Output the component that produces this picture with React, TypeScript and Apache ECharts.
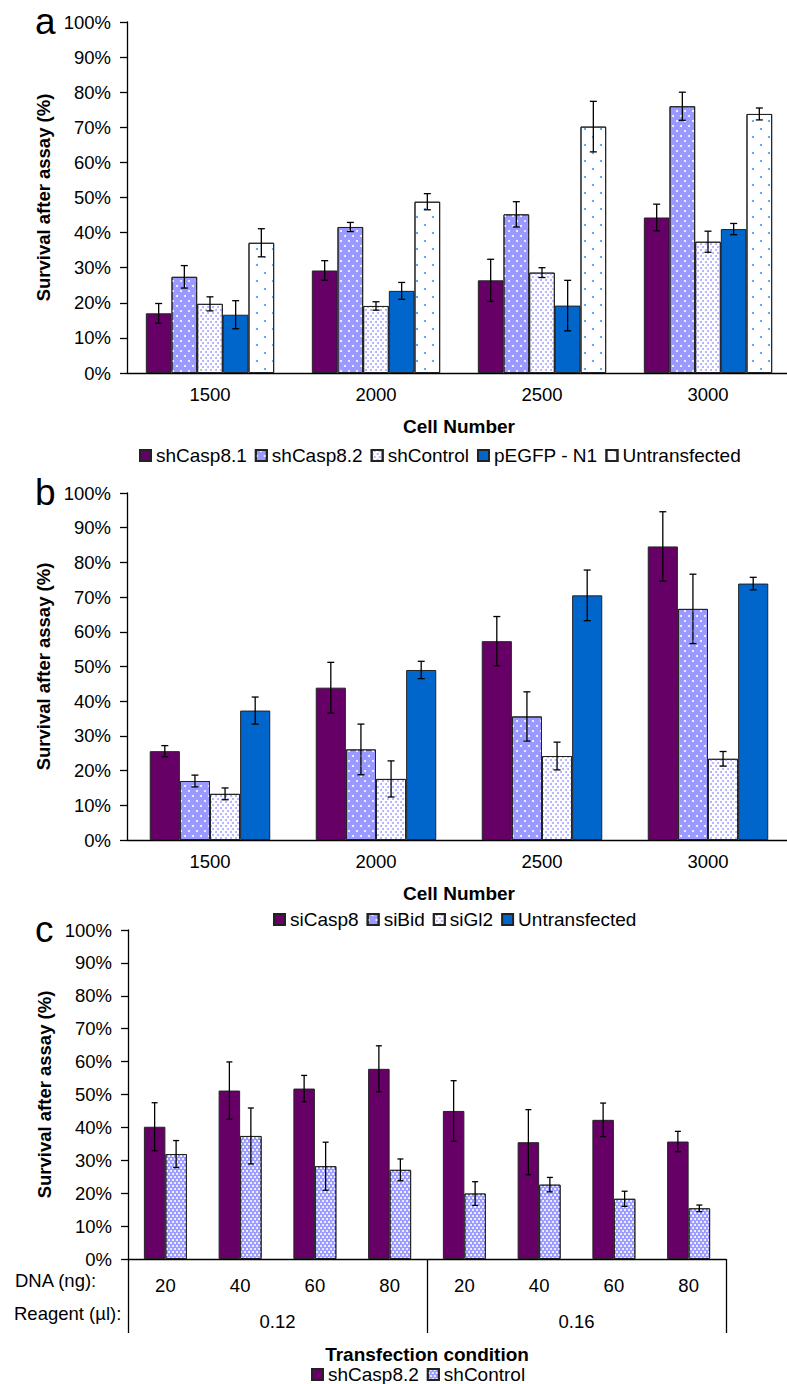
import React, { useEffect, useRef } from 'react';
import * as echarts from 'echarts';

// ---------- data ----------
const cellNumbers = ['1500', '2000', '2500', '3000'];

const aNames = ['shCasp8.1', 'shCasp8.2', 'shControl', 'pEGFP - N1', 'Untransfected'];
const aShCasp81 = [17.0, 29.2, 26.4, 44.3];
const aShCasp81Err = [2.8, 2.8, 6.0, 3.8];
const aShCasp82 = [27.4, 41.6, 45.2, 76.0];
const aShCasp82Err = [3.2, 1.3, 3.6, 4.0];
const aShControl = [19.7, 19.1, 28.6, 37.4];
const aShControlErr = [2.0, 1.2, 1.4, 3.0];
const aPEGFP = [16.6, 23.4, 19.2, 41.0];
const aPEGFPErr = [4.0, 2.4, 7.2, 1.6];
const aUntransfected = [37.1, 48.8, 70.2, 73.8];
const aUntransfectedErr = [4.0, 2.3, 7.2, 1.7];

const bNames = ['siCasp8', 'siBid', 'siGl2', 'Untransfected'];
const bSiCasp8 = [25.6, 43.9, 57.3, 84.6];
const bSiCasp8Err = [1.6, 7.3, 7.1, 10.0];
const bSiBid = [17.0, 26.1, 35.6, 66.6];
const bSiBidErr = [1.7, 7.3, 7.1, 10.0];
const bSiGl2 = [13.3, 17.6, 24.2, 23.4];
const bSiGl2Err = [1.7, 5.2, 4.0, 2.1];
const bUntransfected = [37.3, 49.0, 70.5, 73.9];
const bUntransfectedErr = [3.9, 2.5, 7.3, 1.8];

const cDna = ['20', '40', '60', '80', '20', '40', '60', '80'];
const cReagent = ['0.12', '0.16'];
const cNames = ['shCasp8.2', 'shControl'];
const cShCasp82 = [40.2, 51.2, 51.8, 57.8, 45.0, 35.5, 42.3, 35.7];
const cShCasp82Err = [7.3, 8.7, 4.0, 7.0, 9.2, 9.9, 5.1, 3.1];
const cShControl = [31.9, 37.4, 28.2, 27.1, 19.9, 22.6, 18.3, 15.4];
const cShControlErr = [4.1, 8.5, 7.3, 3.3, 3.6, 2.2, 2.3, 1.0];

// ---------- styles ----------
const FONT = '"Liberation Sans", Arial, Helvetica, sans-serif';
const PURPLE = '#660066';
const LAV = '#9999FF';
const BLUE = '#0066CC';

const decalWhiteDots = { symbol: 'circle', symbolSize: 1, color: '#FFFFFF', dashArrayX: [[2, 6], [0, 4, 2, 2]], dashArrayY: [2, 2.5], rotation: 0 };
const decalLavFine = { symbol: 'circle', symbolSize: 1, color: '#A8A8FF', dashArrayX: [[1.6, 2.4], [0, 2, 1.6, 0.4]], dashArrayY: [1.6, 0.8], rotation: 0 };
const decalBlueDots = { symbol: 'circle', symbolSize: 1, color: '#3399FF', dashArrayX: [[2, 14], [0, 8, 2, 6]], dashArrayY: [2, 6], rotation: 0 };
const decalWhiteFine = { symbol: 'circle', symbolSize: 1, color: '#FFFFFF', dashArrayX: [[2, 2], [0, 2, 2, 0]], dashArrayY: [2, 0.6], rotation: 0 };

const aStyles = [
  { color: PURPLE },
  { color: LAV, decal: decalWhiteDots },
  { color: '#FFFFFF', decal: decalLavFine },
  { color: BLUE },
  { color: '#FFFFFF', decal: decalBlueDots },
];
const bStyles = [
  { color: PURPLE },
  { color: LAV, decal: decalWhiteDots },
  { color: '#FFFFFF', decal: decalLavFine },
  { color: BLUE },
];
const cStyles = [
  { color: PURPLE },
  { color: LAV, decal: decalWhiteFine },
];

function barSeries(prefix: string, names: string[], values: number[][], styles: any[], xi: number, yi: number, gap: string) {
  return names.map((n, i) => ({
    type: 'bar',
    name: prefix + '|' + n,
    xAxisIndex: xi,
    yAxisIndex: yi,
    data: values[i],
    barGap: '0%',
    barCategoryGap: gap,
    itemStyle: { color: styles[i].color, borderColor: '#222', borderWidth: 1, decal: styles[i].decal },
    emphasis: { disabled: true },
  }));
}

function errSeries(values: number[][], errs: number[][], xi: number, yi: number, gapFrac: number, cap: number) {
  const n = values.length;
  return values.map((vals, idx) => ({
    type: 'custom',
    xAxisIndex: xi,
    yAxisIndex: yi,
    silent: true,
    z: 10,
    data: vals.map((v, i) => [i, v, errs[idx][i]]),
    renderItem: (params: any, api: any) => {
      const ci = api.value(0);
      const v = api.value(1);
      const e = api.value(2);
      const c = api.coord([ci, v]);
      const band = api.size([1, 0])[0];
      const gw = band * (1 - gapFrac);
      const x = c[0] - gw / 2 + (idx + 0.5) * (gw / n);
      const top = api.coord([ci, v + e])[1];
      const bot = api.coord([ci, v - e])[1];
      const st = { stroke: '#000', lineWidth: 1.3 };
      return {
        type: 'group',
        children: [
          { type: 'line', shape: { x1: x, y1: top, x2: x, y2: bot }, style: st },
          { type: 'line', shape: { x1: x - cap / 2, y1: top, x2: x + cap / 2, y2: top }, style: st },
          { type: 'line', shape: { x1: x - cap / 2, y1: bot, x2: x + cap / 2, y2: bot }, style: st },
        ],
      };
    },
  }));
}

function yAxisCfg(gridIndex: number) {
  return {
    type: 'value',
    gridIndex,
    min: 0,
    max: 100,
    interval: 10,
    name: 'Survival after assay (%)',
    nameLocation: 'middle',
    nameGap: 73,
    nameTextStyle: { fontSize: 18.5, fontWeight: 'bold', color: '#000', fontFamily: FONT },
    axisLine: { show: true, lineStyle: { color: '#000', width: 1.3 } },
    axisTick: { show: true, length: 7, lineStyle: { color: '#000', width: 1.3 } },
    axisLabel: { formatter: '{value}%', fontSize: 18.5, color: '#000', margin: 16, fontFamily: FONT },
    splitLine: { show: false },
  };
}

function xCellCfg(gridIndex: number) {
  return {
    type: 'category',
    gridIndex,
    data: cellNumbers,
    name: 'Cell Number',
    nameLocation: 'middle',
    nameGap: 44,
    nameTextStyle: { fontSize: 19, fontWeight: 'bold', color: '#000', fontFamily: FONT },
    axisLine: { lineStyle: { color: '#000', width: 1.3 } },
    axisTick: { alignWithLabel: false, length: 6, interval: 0, lineStyle: { color: '#000', width: 1.3 } },
    axisLabel: { fontSize: 18.5, color: '#000', margin: 12, interval: 0, fontFamily: FONT },
  };
}

const legendCommon = {
  orient: 'horizontal',
  icon: 'rect',
  itemWidth: 11,
  itemHeight: 11,
  itemGap: 8,
  padding: 0,
  selectedMode: false,
  textStyle: { fontSize: 19, color: '#000', fontFamily: FONT },
  formatter: (n: string) => n.split('|')[1],
};

export default function App() {
  const ref = useRef<HTMLDivElement>(null);
  useEffect(() => {
    if (!ref.current) return;
    const chart = echarts.init(ref.current, undefined, { renderer: 'svg' });
    const aVals = [aShCasp81, aShCasp82, aShControl, aPEGFP, aUntransfected];
    const aErrs = [aShCasp81Err, aShCasp82Err, aShControlErr, aPEGFPErr, aUntransfectedErr];
    const bVals = [bSiCasp8, bSiBid, bSiGl2, bUntransfected];
    const bErrs = [bSiCasp8Err, bSiBidErr, bSiGl2Err, bUntransfectedErr];
    const cVals = [cShCasp82, cShControl];
    const cErrs = [cShCasp82Err, cShControlErr];

    const option: any = {
      animation: false,
      backgroundColor: '#FFFFFF',
      textStyle: { fontFamily: FONT },
      grid: [
        { left: 127, top: 22, width: 664, height: 351, outerBoundsMode: 'none', containLabel: false },
        { left: 127, top: 493, width: 664, height: 347, outerBoundsMode: 'none', containLabel: false },
        { left: 128, top: 930, width: 598, height: 329, outerBoundsMode: 'none', containLabel: false },
        { left: 128, top: 930, width: 598, height: 329, outerBoundsMode: 'none', containLabel: false },
      ],
      xAxis: [
        xCellCfg(0),
        xCellCfg(1),
        {
          type: 'category',
          gridIndex: 2,
          data: cDna,
          axisLine: { lineStyle: { color: '#000', width: 1.3 } },
          axisTick: { alignWithLabel: false, length: 38, interval: 0, lineStyle: { color: '#000', width: 1.3 } },
          axisLabel: { fontSize: 18.5, color: '#000', margin: 17, interval: 0, fontFamily: FONT },
        },
        {
          type: 'category',
          gridIndex: 3,
          data: cReagent,
          position: 'bottom',
          name: 'Transfection condition',
          nameLocation: 'middle',
          nameGap: 86,
          nameTextStyle: { fontSize: 19, fontWeight: 'bold', color: '#000', fontFamily: FONT },
          axisLine: { show: false },
          axisTick: { show: true, alignWithLabel: false, length: 74, interval: 0, lineStyle: { color: '#000', width: 1.3 } },
          axisLabel: { fontSize: 18.5, color: '#000', margin: 53, interval: 0, fontFamily: FONT },
        },
      ],
      yAxis: [
        yAxisCfg(0),
        yAxisCfg(1),
        yAxisCfg(2),
        { type: 'value', gridIndex: 3, min: 0, max: 100, show: false },
      ],
      legend: [
        { ...legendCommon, data: aNames.map((n) => 'a|' + n), left: 139, top: 446 },
        { ...legendCommon, data: bNames.map((n) => 'b|' + n), left: 273, top: 910 },
        { ...legendCommon, data: cNames.map((n) => 'c|' + n), left: 311, top: 1365 },
      ],
      graphic: [
        { type: 'text', x: 35, y: 21, style: { text: 'a', fontSize: 37, fontFamily: FONT, fill: '#000', verticalAlign: 'middle' } },
        { type: 'text', x: 35, y: 492, style: { text: 'b', fontSize: 37, fontFamily: FONT, fill: '#000', verticalAlign: 'middle' } },
        { type: 'text', x: 35, y: 929, style: { text: 'c', fontSize: 37, fontFamily: FONT, fill: '#000', verticalAlign: 'middle' } },
        { type: 'text', x: 15, y: 1280, style: { text: 'DNA (ng):', fontSize: 18.5, fontFamily: FONT, fill: '#000', verticalAlign: 'middle' } },
        { type: 'text', x: 14, y: 1313, style: { text: 'Reagent (µl):', fontSize: 18.5, fontFamily: FONT, fill: '#000', verticalAlign: 'middle' } },
      ],
      series: [
        ...barSeries('a', aNames, aVals, aStyles, 0, 0, '22.7%'),
        ...barSeries('b', bNames, bVals, bStyles, 1, 1, '27.4%'),
        ...barSeries('c', cNames, cVals, cStyles, 2, 2, '42.5%'),
        ...errSeries(aVals, aErrs, 0, 0, 0.227, 7),
        ...errSeries(bVals, bErrs, 1, 1, 0.274, 7),
        ...errSeries(cVals, cErrs, 2, 2, 0.425, 6),
      ],
    };
    chart.setOption(option);
    return () => chart.dispose();
  }, []);
  return <div ref={ref} style={{ position: 'absolute', left: 0, top: 0, width: 787, height: 1384 }} />;
}
